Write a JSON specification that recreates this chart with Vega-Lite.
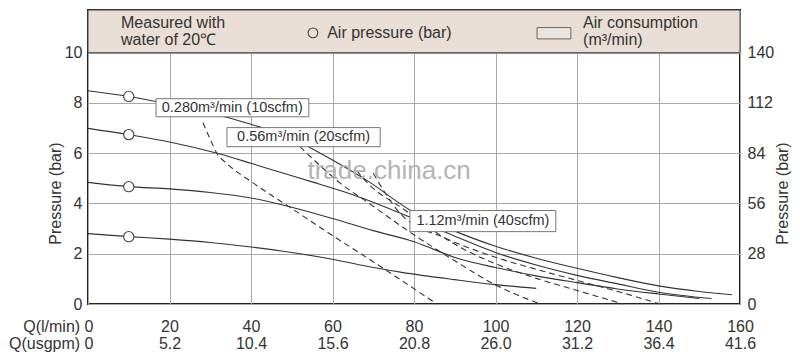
{
"$schema":"https://vega.github.io/schema/vega-lite/v6.json",
"autosize":"none",
"width":652,"height":294,
"padding":{"left":88,"top":10,"right":60,"bottom":52},
"background":"#ffffff",
"config":{"view":{"stroke":"#222222","strokeWidth":2},"font":"Liberation Sans"},
"datasets":{
 "header":[{"x1":0,"x2":160,"y1":10,"y2":11.7}],
 "solid":[
  {"s":"A","x":0,"y":8.49},{"s":"A","x":10,"y":8.26},{"s":"A","x":20,"y":7.95},{"s":"A","x":30,"y":7.6},{"s":"A","x":40,"y":7.15},{"s":"A","x":50,"y":6.6},{"s":"A","x":57,"y":6.0},{"s":"A","x":63,"y":5.45},{"s":"A","x":69,"y":4.86},{"s":"A","x":79,"y":3.74},{"s":"A","x":90,"y":2.9},{"s":"A","x":100,"y":2.3},{"s":"A","x":110,"y":1.82},{"s":"A","x":120,"y":1.42},{"s":"A","x":130,"y":1.05},{"s":"A","x":140,"y":0.72},{"s":"A","x":150,"y":0.5},{"s":"A","x":158,"y":0.37},
  {"s":"B","x":0,"y":6.99},{"s":"B","x":10,"y":6.74},{"s":"B","x":20,"y":6.45},{"s":"B","x":31.7,"y":6.0},{"s":"B","x":40,"y":5.6},{"s":"B","x":48,"y":5.2},{"s":"B","x":55,"y":4.86},{"s":"B","x":65,"y":4.35},{"s":"B","x":79,"y":3.46},{"s":"B","x":90,"y":2.7},{"s":"B","x":100,"y":2.05},{"s":"B","x":110,"y":1.55},{"s":"B","x":120,"y":1.14},{"s":"B","x":130,"y":0.8},{"s":"B","x":140,"y":0.47},{"s":"B","x":153,"y":0.22},
  {"s":"C","x":0,"y":4.84},{"s":"C","x":10,"y":4.67},{"s":"C","x":20,"y":4.58},{"s":"C","x":30,"y":4.44},{"s":"C","x":40,"y":4.22},{"s":"C","x":50,"y":3.85},{"s":"C","x":60,"y":3.4},{"s":"C","x":70,"y":2.92},{"s":"C","x":80,"y":2.48},{"s":"C","x":91,"y":1.8},{"s":"C","x":100,"y":1.45},{"s":"C","x":110,"y":1.12},{"s":"C","x":120,"y":0.85},{"s":"C","x":130,"y":0.6},{"s":"C","x":140,"y":0.4},{"s":"C","x":150,"y":0.22},
  {"s":"D","x":0,"y":2.8},{"s":"D","x":10,"y":2.68},{"s":"D","x":20,"y":2.58},{"s":"D","x":30,"y":2.45},{"s":"D","x":40,"y":2.27},{"s":"D","x":50,"y":2.05},{"s":"D","x":60,"y":1.78},{"s":"D","x":70,"y":1.45},{"s":"D","x":77,"y":1.26},{"s":"D","x":90,"y":0.97},{"s":"D","x":100,"y":0.77},{"s":"D","x":110,"y":0.62}
 ],
 "dashed":[
  {"s":"D1","x":28.2,"y":7.22},{"s":"D1","x":30,"y":6.55},{"s":"D1","x":31.7,"y":5.98},{"s":"D1","x":34,"y":5.6},{"s":"D1","x":40.5,"y":4.82},{"s":"D1","x":50,"y":3.8},{"s":"D1","x":60.6,"y":2.66},{"s":"D1","x":70,"y":1.68},{"s":"D1","x":85.6,"y":0},
  {"s":"D2","x":52,"y":6.26},{"s":"D2","x":57,"y":5.5},{"s":"D2","x":61.8,"y":4.82},{"s":"D2","x":68.5,"y":4.06},{"s":"D2","x":79,"y":2.86},{"s":"D2","x":90,"y":1.72},{"s":"D2","x":100,"y":0.76},{"s":"D2","x":111,"y":0},
  {"s":"D3","x":66,"y":5.3},{"s":"D3","x":68.5,"y":4.83},{"s":"D3","x":77.3,"y":3.79},{"s":"D3","x":84,"y":3.0},{"s":"D3","x":92,"y":2.2},{"s":"D3","x":100,"y":1.6},{"s":"D3","x":110,"y":1.02},{"s":"D3","x":120,"y":0.54},{"s":"D3","x":131.3,"y":0},
  {"s":"D4","x":70,"y":5.2},{"s":"D4","x":73,"y":4.4},{"s":"D4","x":76.6,"y":3.6},{"s":"D4","x":88,"y":2.6},{"s":"D4","x":100,"y":1.86},{"s":"D4","x":110,"y":1.38},{"s":"D4","x":120,"y":0.94},{"s":"D4","x":130,"y":0.5},{"s":"D4","x":140.4,"y":0}
 ],
 "markers":[{"x":10,"y":8.26},{"x":10,"y":6.74},{"x":10,"y":4.67},{"x":10,"y":2.68}],
 "boxes":[
  {"label":"0.280m³/min (10scfm)","x":35.4,"y":7.81,"x1":16.7,"x2":54.2,"y1":7.45,"y2":8.17},
  {"label":"0.56m³/min (20scfm)","x":52.9,"y":6.64,"x1":34.1,"x2":71.7,"y1":6.26,"y2":7.02},
  {"label":"1.12m³/min (40scfm)","x":96.9,"y":3.3,"x1":79.0,"x2":114.8,"y1":2.88,"y2":3.72}
 ],
 "headtext":[
  {"t":"Measured with\nwater of 20℃","x":8.1,"y":11.2},
  {"t":"Air pressure (bar)","x":58.7,"y":10.8},
  {"t":"Air consumption\n(m³/min)","x":121.5,"y":11.2}
 ],
 "legsym":[{"x":55.2,"y":10.79}],
 "legrect":[{"x1":110.2,"x2":118.5,"y1":10.55,"y2":11.0}],
 "watermark":[{"t":"trade.china.cn","x":73.9,"y":5.31}]
},
"resolve":{"scale":{"x":"shared","y":"shared"},"axis":{"y":"independent"}},
"layer":[
 {"data":{"name":"header"},
  "mark":{"type":"rect","fill":"#e8ded6","stroke":"#444444","strokeWidth":1},
  "encoding":{
   "x":{"field":"x1","type":"quantitative","scale":{"domain":[0,160],"nice":false,"zero":false},
        "axis":{"title":null,"values":[0,20,40,60,80,100,120,140,160],"grid":true,"gridColor":"#a8a8a8","gridWidth":1,"domain":false,"ticks":false,
                "labelPadding":14,"labelFontSize":16,"labelLineHeight":17,"labelColor":"#333333","labelFlush":false,"labelOverlap":false,"labelBound":false,
                "labelExpr":"datum.value == 0 ? ['Q(l/min) 0', 'Q(usgpm) 0'] : [datum.label, format(datum.value * 0.26, '.1f')]",
                "labelAlign":{"condition":{"test":"datum.value == 0","value":"right"},"value":"center"},
                "labelOffset":{"condition":{"test":"datum.value == 0","value":5},"value":0}}},
   "x2":{"field":"x2"},
   "y":{"field":"y1","type":"quantitative","scale":{"domain":[0,11.7],"nice":false,"zero":false},
        "axis":{"orient":"left","values":[0,2,4,6,8,10],"grid":true,"gridColor":"#a8a8a8","gridWidth":1,"domain":false,"ticks":false,
                "labelPadding":6,"labelFontSize":16,"labelColor":"#333333",
                "title":"Pressure (bar)","titleFontSize":16,"titleFontWeight":"normal","titleColor":"#333333","titlePadding":1,"titleY":183}},
   "y2":{"field":"y2"}}},
 {"data":{"name":"solid"},
  "mark":{"type":"line","stroke":"#333333","strokeWidth":1.1,"interpolate":"monotone"},
  "encoding":{"x":{"field":"x","type":"quantitative"},"y":{"field":"y","type":"quantitative","axis":null},"detail":{"field":"s"}}},
 {"data":{"name":"dashed"},
  "mark":{"type":"line","stroke":"#333333","strokeWidth":1.1,"strokeDash":[6,4],"interpolate":"monotone"},
  "encoding":{"x":{"field":"x","type":"quantitative"},"y":{"field":"y","type":"quantitative","axis":null},"detail":{"field":"s"}}},
 {"data":{"name":"markers"},
  "mark":{"type":"point","shape":"circle","filled":true,"fill":"#ffffff","stroke":"#444444","strokeWidth":1.1,"size":105,"opacity":1},
  "encoding":{"x":{"field":"x","type":"quantitative"},
   "y":{"field":"y","type":"quantitative",
        "axis":{"orient":"right","values":[0,2,4,6,8,10],"labelExpr":"datum.value * 14","grid":false,"domain":false,"ticks":false,
                "labelPadding":7,"labelFontSize":16,"labelColor":"#333333",
                "title":"Pressure (bar)","titleAngle":-90,"titleBaseline":"top","titleFontSize":16,"titleFontWeight":"normal","titleColor":"#333333","titlePadding":1,"titleY":183}}}},
 {"data":{"name":"watermark"},
  "mark":{"type":"text","fontSize":26,"color":"#b4b4b4","align":"center","baseline":"middle"},
  "encoding":{"x":{"field":"x","type":"quantitative"},"y":{"field":"y","type":"quantitative","axis":null},"text":{"field":"t"}}},
 {"data":{"name":"boxes"},
  "mark":{"type":"rect","fill":"#ffffff","stroke":"#777777","strokeWidth":1},
  "encoding":{"x":{"field":"x1","type":"quantitative"},"x2":{"field":"x2"},"y":{"field":"y1","type":"quantitative","axis":null},"y2":{"field":"y2"}}},
 {"data":{"name":"boxes"},
  "mark":{"type":"text","fontSize":14.5,"color":"#333333","align":"center","baseline":"middle"},
  "encoding":{"x":{"field":"x","type":"quantitative"},"y":{"field":"y","type":"quantitative","axis":null},"text":{"field":"label"}}},
 {"data":{"name":"legrect"},
  "mark":{"type":"rect","fill":"#ebe3dd","stroke":"#666666","strokeWidth":1},
  "encoding":{"x":{"field":"x1","type":"quantitative"},"x2":{"field":"x2"},"y":{"field":"y1","type":"quantitative","axis":null},"y2":{"field":"y2"}}},
 {"data":{"name":"legsym"},
  "mark":{"type":"point","shape":"circle","filled":false,"stroke":"#444444","strokeWidth":1.1,"size":95,"opacity":1},
  "encoding":{"x":{"field":"x","type":"quantitative"},"y":{"field":"y","type":"quantitative","axis":null}}},
 {"data":{"name":"headtext"},
  "mark":{"type":"text","fontSize":16,"color":"#333333","align":"left","baseline":"middle","lineBreak":"\n","lineHeight":17},
  "encoding":{"x":{"field":"x","type":"quantitative"},"y":{"field":"y","type":"quantitative","axis":null},"text":{"field":"t"}}}
]
}
